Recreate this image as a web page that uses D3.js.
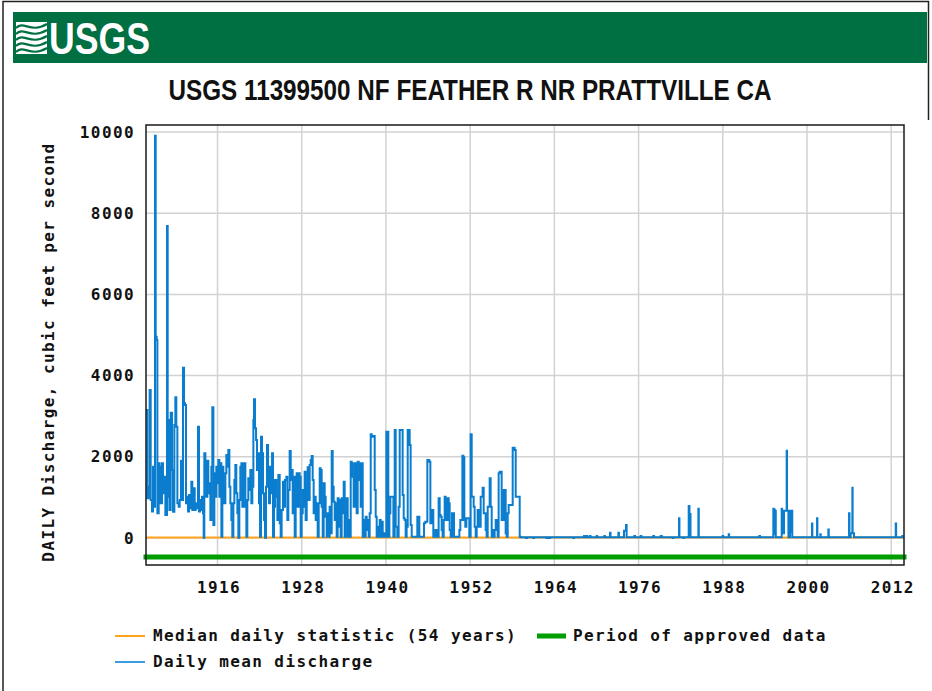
<!DOCTYPE html>
<html>
<head>
<meta charset="utf-8">
<script src="https://cdn.jsdelivr.net/npm/d3@7"></script>
<style>
  body { margin: 0; background: #fff; }
  svg { display: block; }
  .mono { font-family: "DejaVu Sans Mono", "Liberation Mono", monospace; letter-spacing: 1.4px; font-weight: bold; }
</style>
</head>
<body>
<div id="chart"></div>
<script>
// Daily mean discharge, [decimal year, cfs]
var dailyMean = [
  [1905.81,3150],[1905.90,3153],[1906.00,977],[1906.19,1264],[1906.33,3645],[1906.48,936],[1906.67,650],[1906.81,1757],
  [1906.95,772],[1907.09,9909],[1907.19,4959],[1907.33,4877],[1907.43,607],[1907.62,1839],[1907.76,1757],[1907.90,854],
  [1908.09,1839],[1908.23,1100],[1908.38,1510],[1908.57,566],[1908.80,7684],[1908.90,1018],[1908.99,2906],[1909.14,689],
  [1909.33,3087],[1909.52,1675],[1909.66,648],[1909.85,2783],[1909.99,3464],[1910.13,2742],[1910.28,854],[1910.47,772],
  [1910.61,936],[1910.80,1903],[1910.94,936],[1911.08,4195],[1911.23,3317],[1911.37,3276],[1911.51,854],[1911.65,1018],
  [1911.80,650],[1911.94,1059],[1912.08,730],[1912.27,1387],[1912.41,689],[1912.60,1223],[1912.75,689],[1912.89,854],
  [1913.08,730],[1913.22,2742],[1913.36,650],[1913.51,936],[1913.65,689],[1913.79,1018],[1913.93,607],[1914.03,5],
  [1914.12,2085],[1914.27,1593],[1914.41,1018],[1914.55,1903],[1914.69,1346],[1914.84,1100],[1914.98,443],[1915.12,1757],
  [1915.26,3218],[1915.41,320],[1915.55,1593],[1915.69,1018],[1915.83,1757],[1915.98,1346],[1916.12,1921],[1916.26,1018],
  [1916.40,1839],[1916.55,33],[1916.69,1757],[1916.83,1264],[1916.97,854],[1917.12,1593],[1917.26,2044],[1917.40,1757],
  [1917.54,2167],[1917.69,1264],[1917.83,854],[1917.97,443],[1918.11,33],[1918.26,854],[1918.40,1428],[1918.54,1798],
  [1918.68,1100],[1918.83,607],[1918.97,5],[1919.11,936],[1919.25,1757],[1919.40,1839],[1919.54,772],[1919.68,1428],
  [1919.82,1839],[1919.97,772],[1920.11,33],[1920.25,936],[1920.39,1469],[1920.54,1182],[1920.68,1675],[1920.82,854],
  [1920.96,1264],[1921.11,2906],[1921.20,3415],[1921.34,2701],[1921.49,2414],[1921.63,1675],[1921.77,2085],[1921.91,854],
  [1922.06,33],[1922.20,2496],[1922.34,2085],[1922.48,1100],[1922.63,443],[1922.77,5],[1922.91,1264],[1923.05,2290],
  [1923.20,1593],[1923.34,854],[1923.48,1757],[1923.62,1100],[1923.77,2085],
  [1923.91,33],[1924.05,772],[1924.19,1428],[1924.38,1018],[1924.53,443],[1924.67,1552],[1924.86,361],[1925.00,33],
  [1925.14,690],[1925.33,1387],[1925.48,772],[1925.62,1428],[1925.81,1511],[1925.95,443],[1926.09,1182],[1926.28,2143],
  [1926.43,1428],[1926.57,1675],[1926.71,607],[1926.85,1511],[1927.00,33],[1927.14,1018],[1927.28,1593],[1927.42,772],
  [1927.57,1593],[1927.71,1511],[1927.85,33],[1927.99,607],[1928.14,1182],[1928.28,772],[1928.42,1634],[1928.56,443],
  [1928.71,1182],[1928.85,1740],[1928.99,936],[1929.13,1798],[1929.28,1921],[1929.42,2020],[1929.56,1428],[1929.70,607],
  [1929.85,1018],[1929.99,443],[1930.13,854],[1930.27,33],[1930.42,854],[1930.56,1716],[1930.70,1675],[1930.84,772],
  [1930.99,33],[1931.13,1346],[1931.27,1018],[1931.41,525],[1931.56,33],[1931.70,607],[1931.84,33],[1931.98,772],
  [1932.13,115],[1932.27,2143],[1932.41,1264],[1932.55,895],[1932.70,443],[1932.84,854],[1932.98,33],[1933.12,977],
  [1933.27,279],[1933.41,936],[1933.55,33],[1933.69,977],[1933.84,607],[1933.98,1387],[1934.12,33],[1934.26,607],
  [1934.41,977],[1934.55,33],[1934.69,443],[1934.83,33],[1934.98,1880],[1935.12,1839],[1935.26,1511],[1935.40,772],
  [1935.55,1839],[1935.69,1428],[1935.83,607],[1935.97,1880],[1936.12,1428],[1936.26,1839],[1936.40,772],[1936.54,1839],
  [1936.69,33],[1936.83,443],[1936.97,33],[1937.11,525],[1937.26,197],[1937.40,443],[1937.54,33],[1937.68,607],
  [1937.83,2553],[1937.97,2512],[1938.11,2496],[1938.25,2512],[1938.40,1182],[1938.54,525],[1938.68,33],[1938.82,279],
  [1938.97,33],[1939.11,443],[1939.25,33],[1939.39,402],[1939.54,33],[1939.68,115],[1939.82,33],[1940.06,2619],
  [1940.20,2619],[1940.34,33],[1940.49,607],[1940.63,1018],[1940.77,1018],[1940.91,1018],[1941.06,33],[1941.25,2660],
  [1941.39,279],[1941.48,279],[1941.62,33],[1941.81,772],[1941.96,2660],[1942.10,2660],[1942.24,2660],[1942.38,1059],
  [1942.53,484],[1942.67,443],[1942.81,33],[1942.95,279],[1943.10,2660],[1943.24,2660],[1943.38,2291],[1943.52,320],
  [1943.67,33],[1943.86,33],[1944.09,33],[1944.33,33],[1944.47,525],[1944.62,525],[1944.76,33],[1945.00,33],
  [1945.28,33],[1945.42,361],[1945.61,402],[1945.76,402],[1945.90,1921],[1946.04,1921],[1946.18,1880],[1946.33,361],
  [1946.47,361],[1946.61,690],[1946.75,33],[1946.90,33],[1947.04,197],[1947.18,197],[1947.32,33],[1947.51,977],
  [1947.66,566],[1947.80,525],[1947.94,197],[1948.08,33],[1948.23,443],[1948.37,1018],[1948.51,854],[1948.65,443],
  [1948.80,977],[1948.94,854],[1949.08,197],[1949.23,33],[1949.41,607],[1949.56,607],[1949.70,33],[1949.94,33],
  [1950.17,33],[1950.32,33],[1950.46,197],[1950.60,443],[1950.74,443],[1950.89,2028],[1951.03,1987],[1951.17,443],
  [1951.31,279],[1951.46,484],[1951.60,484],[1951.74,484],[1951.88,33],[1952.07,2553],[1952.22,1018],[1952.36,1018],
  [1952.50,772],[1952.64,279],[1952.79,33],[1952.93,279],[1953.07,690],[1953.21,279],[1953.36,279],[1953.50,1018],
  [1953.64,1018],[1953.78,1240],[1953.93,607],[1954.07,607],[1954.21,197],[1954.35,33],[1954.50,772],[1954.64,772],
  [1954.78,1470],[1954.92,772],[1955.07,33],[1955.21,197],[1955.35,33],[1955.49,197],[1955.64,443],[1955.78,443],
  [1955.92,33],[1956.06,1593],[1956.21,1634],[1956.35,1634],[1956.49,443],[1956.63,443],[1956.78,1182],[1956.92,1182],
  [1957.06,115],[1957.20,33],[1957.35,607],[1957.49,813],[1957.63,813],[1957.77,813],[1957.92,813],[1958.06,2225],
  [1958.20,2225],[1958.34,2167],[1958.49,1018],[1958.63,1018],[1958.77,1018],[1958.91,1018],[1959.06,33],
  [1959.20,20],[1959.96,0],[1960.10,20],[1961.00,0],[1961.10,20],[1962.90,0],[1963.00,20],[1963.30,0],[1963.40,20],
  [1966.70,0],[1966.80,20],[1968.20,20],[1968.22,50],[1968.30,20],[1968.60,50],[1968.70,20],[1969.08,50],[1969.15,20],
  [1970.03,50],[1970.10,20],[1971.12,50],[1971.20,20],[1971.90,20],[1971.93,130],[1972.00,20],[1973.10,20],[1973.12,130],
  [1973.20,20],[1973.90,20],[1973.92,180],[1974.10,180],[1974.21,320],[1974.30,20],[1975.40,50],[1975.50,20],[1976.30,50],
  [1976.40,20],[1978.10,50],[1978.20,20],[1979.15,50],[1979.30,20],[1980.86,0],[1980.95,20],[1981.70,20],[1981.76,485],
  [1981.82,20],[1982.38,0],[1982.45,20],[1983.10,20],[1983.14,790],[1983.25,590],[1983.33,590],[1983.40,20],[1984.48,20],
  [1984.52,720],[1984.58,20],[1987.98,50],[1988.05,20],[1988.84,90],[1988.90,20],[1993.21,50],[1993.30,20],[1995.15,20],
  [1995.20,720],[1995.25,100],[1995.30,700],[1995.40,670],[1995.45,200],[1995.49,670],[1995.55,20],[1996.35,20],
  [1996.39,720],[1996.45,150],[1996.53,670],[1996.62,120],[1996.72,670],[1996.90,670],[1997.05,670],[1997.10,2150],
  [1997.15,670],[1997.30,670],[1997.35,20],[1997.55,20],[1997.58,670],[1997.70,150],[1997.86,670],[1997.90,20],
  [2000.68,20],[2000.71,360],[2000.76,20],[2001.40,20],[2001.43,485],[2001.48,20],[2001.90,90],[2001.95,20],[2003.00,20],
  [2003.04,210],[2003.10,20],[2005.95,20],[2005.99,610],[2006.05,20],[2006.22,115],[2006.42,115],[2006.46,1240],
  [2006.50,115],[2006.60,115],[2006.70,20],[2012.60,20],[2012.64,360],[2012.70,20],[2013.50,20],[2013.59,50],[2013.62,20]
];

// Median daily statistic (54 years), cfs
var medianYears = [1905.81, 2013.62];
var medianCfs = [12, 12];

// Period of approved data
var approvedPeriod = [1905.81, 2013.82];

var yearTicks = [1916, 1928, 1940, 1952, 1964, 1976, 1988, 2000, 2012];
var cfsTicks = [0, 2000, 4000, 6000, 8000, 10000];

var chartTitle = "USGS 11399500 NF FEATHER R NR PRATTVILLE CA";
var yLabel = "DAILY Discharge, cubic feet per second";
var legendItems = [
  { label: "Median daily statistic (54 years)", color: "#ffa31a", width: 2 },
  { label: "Period of approved data", color: "#009e00", width: 5 },
  { label: "Daily mean discharge", color: "#3d9be0", width: 2 }
];

var width = 932, height = 691;
var plot = { left: 146, right: 904, top: 125, bottom: 565 };

var svg = d3.select("#chart").append("svg")
    .attr("width", width)
    .attr("height", height);

// page frame
svg.append("path")
   .attr("d", "M3,691 V1.5 H928.5 V120")
   .attr("fill", "none")
   .attr("stroke", "#222")
   .attr("stroke-width", 1.5);

// USGS banner
svg.append("rect")
   .attr("x", 13).attr("y", 12)
   .attr("width", 914).attr("height", 51)
   .attr("fill", "#006f41");

var logo = svg.append("g").attr("transform", "translate(16,22)");
logo.append("rect").attr("x", 0).attr("y", 0).attr("width", 31).attr("height", 32).attr("fill", "#fff");
[4, 10, 16, 22, 28].forEach(function(o) {
    logo.append("path")
        .attr("d", "M0," + (o + 2) + " C8," + (o - 6) + " 14," + (o + 8) + " 31," + (o - 2))
        .attr("fill", "none")
        .attr("stroke", "#006f41")
        .attr("stroke-width", 2.2);
});
svg.append("text")
   .attr("x", 49).attr("y", 54)
   .attr("fill", "#fff")
   .style("font-family", "'Liberation Sans Narrow', 'Arial Narrow', 'Liberation Sans', sans-serif")
   .style("font-weight", "bold")
   .style("font-size", "44px")
   .attr("textLength", 101)
   .attr("lengthAdjust", "spacingAndGlyphs")
   .text("USGS");

// title
svg.append("text")
   .attr("x", 470).attr("y", 100)
   .attr("text-anchor", "middle")
   .attr("fill", "#111")
   .style("font-family", "'Liberation Sans Narrow', 'Arial Narrow', 'Liberation Sans', sans-serif")
   .style("font-weight", "bold")
   .style("font-size", "30px")
   .attr("textLength", 603)
   .attr("lengthAdjust", "spacingAndGlyphs")
   .text(chartTitle);

// scales
var x = d3.scaleLinear()
          .domain([1905.81, 2013.82])
          .range([plot.left, plot.right]);

var y = d3.scaleLinear()
          .domain([-665, 10172])
          .range([plot.bottom, plot.top]);

// grid
svg.append("g")
   .selectAll("line")
   .data(yearTicks)
   .enter().append("line")
   .attr("x1", d => x(d)).attr("x2", d => x(d))
   .attr("y1", plot.top).attr("y2", plot.bottom)
   .attr("stroke", "#d2d2d2")
   .attr("stroke-width", 1.5);

svg.append("g")
   .selectAll("line")
   .data(cfsTicks)
   .enter().append("line")
   .attr("x1", plot.left).attr("x2", plot.right)
   .attr("y1", d => y(d)).attr("y2", d => y(d))
   .attr("stroke", "#d2d2d2")
   .attr("stroke-width", 1.5);

svg.append("clipPath").attr("id", "plotClip")
   .append("rect")
   .attr("x", plot.left).attr("y", plot.top)
   .attr("width", plot.right - plot.left).attr("height", plot.bottom - plot.top);

var dataG = svg.append("g").attr("clip-path", "url(#plotClip)");

var line = d3.line()
             .x(d => x(d[0]))
             .y(d => y(d[1]));

// daily values are drawn as steps, like day-by-day data
var stepLine = d3.line()
             .curve(d3.curveStepAfter)
             .x(d => x(d[0]))
             .y(d => y(d[1]));

dataG.append("path")
     .datum(d3.zip(medianYears, medianCfs))
     .attr("d", line)
     .attr("fill", "none")
     .attr("stroke", "#ffa31a")
     .attr("stroke-width", 2);

dataG.append("path")
     .datum(dailyMean)
     .attr("d", stepLine)
     .attr("fill", "none")
     .attr("stroke", "#0a7dcf")
     .attr("stroke-width", 2)
     .attr("stroke-linejoin", "miter");

// approved data bar
svg.append("line")
   .attr("x1", x(approvedPeriod[0])).attr("x2", x(approvedPeriod[1]))
   .attr("y1", y(-470)).attr("y2", y(-470))
   .attr("stroke", "#009e00")
   .attr("stroke-width", 5)
   .attr("stroke-linecap", "square");

// plot border
svg.append("rect")
   .attr("x", plot.left).attr("y", plot.top)
   .attr("width", plot.right - plot.left).attr("height", plot.bottom - plot.top)
   .attr("fill", "none")
   .attr("stroke", "#1a1a1a")
   .attr("stroke-width", 1.5);

// axes
var yAxis = svg.append("g")
   .attr("transform", "translate(" + plot.left + ",0)")
   .call(d3.axisLeft(y).tickValues(cfsTicks).tickSize(0).tickPadding(11).tickFormat(d3.format("d")));
yAxis.select(".domain").remove();
yAxis.selectAll("text")
     .attr("class", "mono")
     .style("font-size", "16px")
     .attr("fill", "#111");

var xAxis = svg.append("g")
   .attr("transform", "translate(0," + plot.bottom + ")")
   .call(d3.axisBottom(x).tickValues(yearTicks).tickSize(0).tickPadding(17).tickFormat(d3.format("d")));
xAxis.select(".domain").remove();
xAxis.selectAll("text")
     .attr("class", "mono")
     .attr("dx", "1px")
     .style("font-size", "16px")
     .attr("fill", "#111");

// y axis title
svg.append("text")
   .attr("class", "mono")
   .attr("transform", "translate(54,352) rotate(-90)")
   .attr("text-anchor", "middle")
   .style("font-size", "16px")
   .attr("fill", "#111")
   .text(yLabel);

// legend
var legendPos = [[115, 636], [537, 636], [115, 662]];
var legend = svg.append("g").selectAll("g")
   .data(legendItems)
   .enter().append("g")
   .attr("transform", (d, i) => "translate(" + legendPos[i][0] + "," + legendPos[i][1] + ")");

legend.append("line")
      .attr("x1", 0).attr("x2", d => d.width > 3 ? 29 : 30)
      .attr("y1", 0).attr("y2", 0)
      .attr("stroke", d => d.color)
      .attr("stroke-width", d => d.width);

legend.append("text")
      .attr("class", "mono")
      .attr("x", d => d.width > 3 ? 36 : 38)
      .attr("y", 5)
      .style("font-size", "16px")
      .attr("fill", "#111")
      .text(d => d.label);
</script>
</body>
</html>
